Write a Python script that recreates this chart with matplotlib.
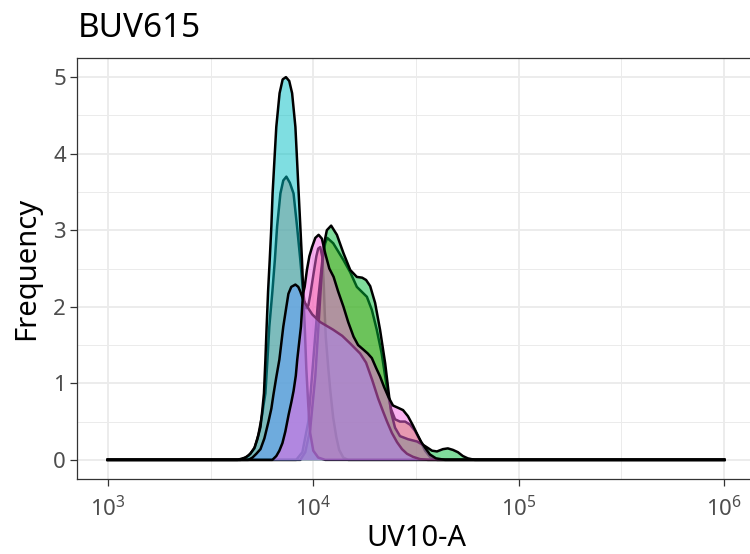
import matplotlib
matplotlib.use("Agg")
import matplotlib.pyplot as plt
import matplotlib.ticker as mticker
import numpy as np

plt.rcParams['font.family'] = ['Noto Sans', 'DejaVu Sans']
plt.rcParams['mathtext.fontset'] = 'custom'
plt.rcParams['mathtext.rm'] = 'Noto Sans'
plt.rcParams['mathtext.it'] = 'Noto Sans'

# density curves: log10(UV10-A) and frequency
x_range = [3.0, 6.0]

red_logx = [3.646, 3.684, 3.714, 3.733, 3.752, 3.757, 3.767, 3.777, 3.786, 3.801, 3.813,
            3.824, 3.840, 3.854, 3.869, 3.886, 3.904, 3.921, 3.937, 3.947, 3.956, 3.966,
            3.976, 3.985, 4.000, 4.015, 4.024, 4.034, 4.044, 4.051, 4.056, 4.061, 4.073,
            4.083, 4.097, 4.112, 4.126, 4.146, 4.170]
red_y = [0, 0.05, 0.15, 0.33, 0.6, 0.7, 0.87, 1.31, 1.74, 2.2, 2.61,
         3.05, 3.48, 3.65, 3.70, 3.62, 3.48, 3.05, 2.61, 2.3, 2.08, 1.98,
         2.02, 2.15, 2.41, 2.66, 2.76, 2.78, 2.65, 2.3, 1.9, 1.6, 1.2,
         0.9, 0.55, 0.3, 0.13, 0.03, 0]

olive_logx = [3.917, 3.947, 3.976, 4.000, 4.024, 4.044, 4.058, 4.068, 4.097, 4.147, 4.180,
              4.212, 4.261, 4.285, 4.309, 4.333, 4.350, 4.364, 4.379, 4.398, 4.422, 4.447,
              4.471, 4.495, 4.519, 4.544, 4.568, 4.602]
olive_y = [0, 0.1, 0.5, 1.3, 2.1, 2.6, 2.83, 2.9, 2.83, 2.61, 2.45,
           2.26, 2.13, 1.96, 1.7, 1.39, 1.09, 0.85, 0.66, 0.53, 0.5, 0.5,
           0.46, 0.38, 0.26, 0.12, 0.04, 0]

green_logx = [3.937, 3.961, 3.985, 4.010, 4.024, 4.039, 4.051, 4.066, 4.087, 4.115, 4.147,
              4.180, 4.212, 4.238, 4.257, 4.277, 4.301, 4.325, 4.350, 4.366, 4.379, 4.398,
              4.422, 4.461, 4.505, 4.544, 4.578, 4.602, 4.631, 4.655, 4.680, 4.704, 4.728,
              4.752, 4.786]
green_y = [0, 0.1, 0.4, 1.1, 1.7, 2.35, 2.8, 3.0, 3.06, 2.94, 2.7,
           2.48, 2.39, 2.38, 2.35, 2.27, 2.05, 1.7, 1.26, 0.9, 0.62, 0.42,
           0.31, 0.27, 0.24, 0.18, 0.12, 0.11, 0.14, 0.15, 0.13, 0.1, 0.05,
           0.02, 0]

cyan_logx = [3.631, 3.670, 3.694, 3.714, 3.728, 3.743, 3.752, 3.760, 3.767, 3.773, 3.780,
             3.788, 3.796, 3.802, 3.811, 3.820, 3.836, 3.851, 3.867, 3.883, 3.897, 3.913,
             3.921, 3.929, 3.937, 3.945, 3.951, 3.959, 3.966, 3.976, 3.985, 4.000, 4.024,
             4.058]
cyan_y = [0, 0.03, 0.08, 0.16, 0.27, 0.43, 0.65, 0.87, 1.31, 1.74, 2.2,
          2.61, 3.05, 3.48, 3.92, 4.35, 4.79, 4.97, 5.0, 4.95, 4.79, 4.35,
          3.92, 3.48, 3.05, 2.61, 2.2, 1.7, 1.2, 0.7, 0.35, 0.12, 0.03,
          0]

blue_logx = [3.684, 3.704, 3.723, 3.743, 3.762, 3.782, 3.796, 3.806, 3.820, 3.835, 3.854,
             3.869, 3.879, 3.893, 3.913, 3.927, 3.937, 3.951, 3.971, 3.995, 4.034, 4.097,
             4.141, 4.180, 4.228, 4.257, 4.286, 4.316, 4.340, 4.359, 4.383, 4.408, 4.432,
             4.456, 4.485, 4.519, 4.558]
blue_y = [0, 0.03, 0.08, 0.14, 0.28, 0.5, 0.67, 0.85, 1.08, 1.31, 1.74,
          2.0, 2.17, 2.26, 2.29, 2.26, 2.2, 2.09, 2.0, 1.9, 1.8, 1.7,
          1.62, 1.52, 1.39, 1.27, 1.05, 0.8, 0.63, 0.5, 0.35, 0.23, 0.14,
          0.08, 0.04, 0.01, 0]

pink_logx = [3.801, 3.820, 3.835, 3.850, 3.864, 3.880, 3.893, 3.904, 3.915, 3.922, 3.932,
             3.940, 3.950, 3.958, 3.969, 3.981, 3.994, 4.010, 4.026, 4.042, 4.058, 4.078,
             4.099, 4.121, 4.147, 4.170, 4.196, 4.218, 4.244, 4.265, 4.285, 4.306, 4.325,
             4.345, 4.366, 4.388, 4.413, 4.437, 4.461, 4.485, 4.505, 4.524, 4.544, 4.568,
             4.597, 4.641]
pink_y = [0, 0.05, 0.12, 0.22, 0.37, 0.59, 0.75, 0.9, 1.1, 1.31, 1.55,
          1.74, 2.17, 2.26, 2.48, 2.66, 2.78, 2.9, 2.94, 2.89, 2.7, 2.5,
          2.39, 2.2, 2.0, 1.8, 1.61, 1.5, 1.44, 1.39, 1.33, 1.2, 1.09,
          0.95, 0.82, 0.71, 0.68, 0.65, 0.57, 0.45, 0.34, 0.24, 0.16, 0.07,
          0.02, 0]

series = [
    (red_logx, red_y, '#F8766D'),
    (olive_logx, olive_y, '#B79F00'),
    (green_logx, green_y, '#00BA38'),
    (cyan_logx, cyan_y, '#00BFC4'),
    (blue_logx, blue_y, '#619CFF'),
    (pink_logx, pink_y, '#F564E3'),
]

fig = plt.figure(figsize=(7.5, 5.54), dpi=100)
ax = fig.add_axes([77 / 750, 75 / 554, 678 / 750, 421 / 554])

for logx, y, col in series:
    lx = np.concatenate([[x_range[0]], logx, [x_range[1]]])
    yy = np.concatenate([[0], y, [0]])
    xx = 10 ** lx
    ax.fill_between(xx, 0, yy, color=col, alpha=0.5, lw=0, zorder=2)
    ax.plot(xx, yy, color='black', lw=1.8, zorder=2, solid_joinstyle='round')

ax.set_xscale('log')
ax.set_xlim(10 ** 2.85, 10 ** 6.15)
ax.set_ylim(-0.25, 5.25)

ax.xaxis.set_major_locator(mticker.FixedLocator([1e3, 1e4, 1e5, 1e6]))
ax.xaxis.set_minor_locator(mticker.FixedLocator([10 ** 3.5, 10 ** 4.5, 10 ** 5.5]))
ax.xaxis.set_major_formatter(mticker.FixedFormatter(
    [r'$\mathregular{10^{3}}$', r'$\mathregular{10^{4}}$',
     r'$\mathregular{10^{5}}$', r'$\mathregular{10^{6}}$']))
ax.xaxis.set_minor_formatter(mticker.NullFormatter())
ax.yaxis.set_major_locator(mticker.FixedLocator([0, 1, 2, 3, 4, 5]))
ax.yaxis.set_minor_locator(mticker.FixedLocator([0.5, 1.5, 2.5, 3.5, 4.5]))

ax.grid(which='major', color='#EBEBEB', lw=1.3, zorder=0)
ax.grid(which='minor', color='#EBEBEB', lw=0.7, zorder=0)
ax.set_axisbelow(True)

for s in ax.spines.values():
    s.set_color('#333333')
    s.set_linewidth(0.9)

ax.tick_params(which='major', length=5, width=0.9, color='#333333',
               labelcolor='#4D4D4D', labelsize=16)
ax.tick_params(axis='x', which='major', pad=7)
ax.tick_params(axis='y', which='major', pad=3)
ax.tick_params(which='minor', length=0)

ax.set_xlabel('UV10-A', fontsize=21, labelpad=2)
ax.set_ylabel('Frequency', fontsize=21, labelpad=9)
fig.text(78 / 750, 1 - 37 / 554, 'BUV615', fontsize=24, ha='left', va='baseline')

fig.savefig('out.png', dpi=100)
